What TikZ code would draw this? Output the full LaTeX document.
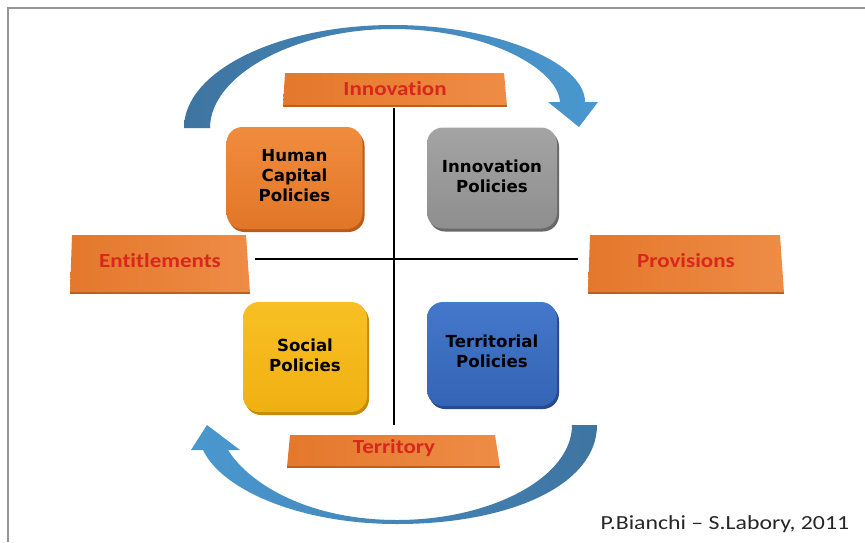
\documentclass[tikz,border=0pt]{standalone}
\usepackage{graphicx}
\usepackage{fontspec}
\setmainfont{Carlito}[Ligatures=CommonOff]
\newfontfamily\boxfont{DejaVu Sans}
\usetikzlibrary{shadows}
\definecolor{framegray}{RGB}{150,150,150}
\definecolor{arrowdark}{RGB}{62,116,160}
\definecolor{arrowlight}{RGB}{74,152,208}
\definecolor{banL}{RGB}{228,120,44}
\definecolor{banR}{RGB}{238,140,70}
\definecolor{banEdge}{RGB}{190,95,30}
\definecolor{banText}{RGB}{218,38,28}
\definecolor{orTop}{RGB}{240,140,62}
\definecolor{orBot}{RGB}{226,118,40}
\definecolor{orEdge}{RGB}{185,92,26}
\definecolor{grTop}{RGB}{164,164,164}
\definecolor{grBot}{RGB}{142,142,142}
\definecolor{grEdge}{RGB}{105,105,105}
\definecolor{yeTop}{RGB}{248,192,36}
\definecolor{yeBot}{RGB}{240,176,18}
\definecolor{yeEdge}{RGB}{196,140,8}
\definecolor{blTop}{RGB}{68,120,202}
\definecolor{blBot}{RGB}{52,100,182}
\definecolor{blEdge}{RGB}{38,74,140}
\tikzset{
  polbox/.style={rounded corners=16pt, inner sep=0pt},
  poltext/.style={font=\boxfont\bfseries\fontsize{16.6}{20}\selectfont, align=center, text=black},
  bantext/.style={font=\bfseries\fontsize{20}{24}\selectfont, text=banText, anchor=base},
  banner/.style={left color=banL, right color=banR},
  banedge/.style={draw=banEdge, line width=2pt},
  axis/.style={draw=black, line width=2.5pt},
}
\newcommand{\wide}[1]{\scalebox{1.15}[1]{#1}}
\begin{document}
\begin{tikzpicture}[x=1pt,y=-1pt]
\useasboundingbox (0,0) rectangle (865,542);
\fill[white] (0,0) rectangle (865,542);
\draw[framegray, line width=1.5pt] (8,542) -- (8,8) -- (865,8);

% top curved arrow
\shade[left color=arrowdark, right color=arrowlight]
  (184,128) .. controls (184,71) and (278,25) .. (393,25)
  .. controls (495,25) and (585,62) .. (585,102)
  -- (598,102) -- (579,127) -- (548,102) -- (560,102)
  .. controls (558,68) and (485,29) .. (393,29)
  .. controls (295,29) and (210,75) .. (210,128) -- cycle;

% bottom curved arrow
\shade[left color=arrowlight, right color=arrowdark]
  (597,425) .. controls (597,485) and (510,524) .. (397,524)
  .. controls (300,524) and (222,490) .. (203,450)
  -- (191,450) -- (207,425) -- (240,450) -- (228,450)
  .. controls (250,485) and (310,520) .. (397,520)
  .. controls (490,520) and (572,478) .. (572,425) -- cycle;

% banners
\shade[banner] (285,73) -- (504,73) -- (507,106) -- (283,106) -- cycle;
\draw[banedge] (283,106) -- (507,106);
\node[bantext] (innov) at (395,95) {\wide{Innovation}};

\shade[banner] (72,235) -- (246,235) -- (250,293) -- (70,293) -- cycle;
\draw[banedge] (70,293) -- (250,293);
\node[bantext] (entit) at (160,267) {\wide{Entitlements}};

\shade[banner] (590,235) -- (780,235) -- (784,293) -- (588,293) -- cycle;
\draw[banedge] (588,293) -- (784,293);
\node[bantext] (provi) at (686,267) {\wide{Provisions}};

\shade[banner] (290,435) -- (495,435) -- (500,467) -- (287,467) -- cycle;
\draw[banedge] (287,467) -- (500,467);
\node[bantext] (terri) at (394,453) {\wide{Territory}};

% axes
\coordinate (vtop) at (394,108);
\coordinate (vbot) at (394,425);
\coordinate (hleft) at (255,259);
\coordinate (hright) at (578,259);
\draw[axis] (vtop) -- (vbot);
\draw[axis] (hleft) -- (hright);

% policy boxes
\node[polbox, minimum width=136pt, minimum height=102pt,
  top color=orTop, bottom color=orBot,
  drop shadow={shadow xshift=2pt, shadow yshift=-3pt, fill=orEdge, opacity=1}]
  (hcpbox) at (294.5,178) {};
\node[poltext] (hcp) at (294.5,176) {Human\\Capital\\Policies};

\node[polbox, minimum width=130pt, minimum height=101pt,
  top color=grTop, bottom color=grBot,
  drop shadow={shadow xshift=2pt, shadow yshift=-3pt, fill=grEdge, opacity=1}]
  (inpbox) at (492,178) {};
\node[poltext] (inp) at (492,176) {Innovation\\Policies};

\node[polbox, minimum width=124pt, minimum height=110pt,
  top color=yeTop, bottom color=yeBot,
  drop shadow={shadow xshift=2pt, shadow yshift=-3pt, fill=yeEdge, opacity=1}]
  (socbox) at (305,357) {};
\node[poltext] (soc) at (305,355) {Social\\Policies};

\node[polbox, minimum width=130pt, minimum height=104pt,
  top color=blTop, bottom color=blBot,
  drop shadow={shadow xshift=2pt, shadow yshift=-3pt, fill=blEdge, opacity=1}]
  (terbox) at (492,354) {};
\node[poltext] (ter) at (492,351) {Territorial\\Policies};

% credit
\node[anchor=base west, font=\fontsize{20}{24}\selectfont, text=black!85] (credit) at (597,529) {\scalebox{1.19}[1]{P.Bianchi – S.Labory, 2011}};
\end{tikzpicture}
\end{document}
